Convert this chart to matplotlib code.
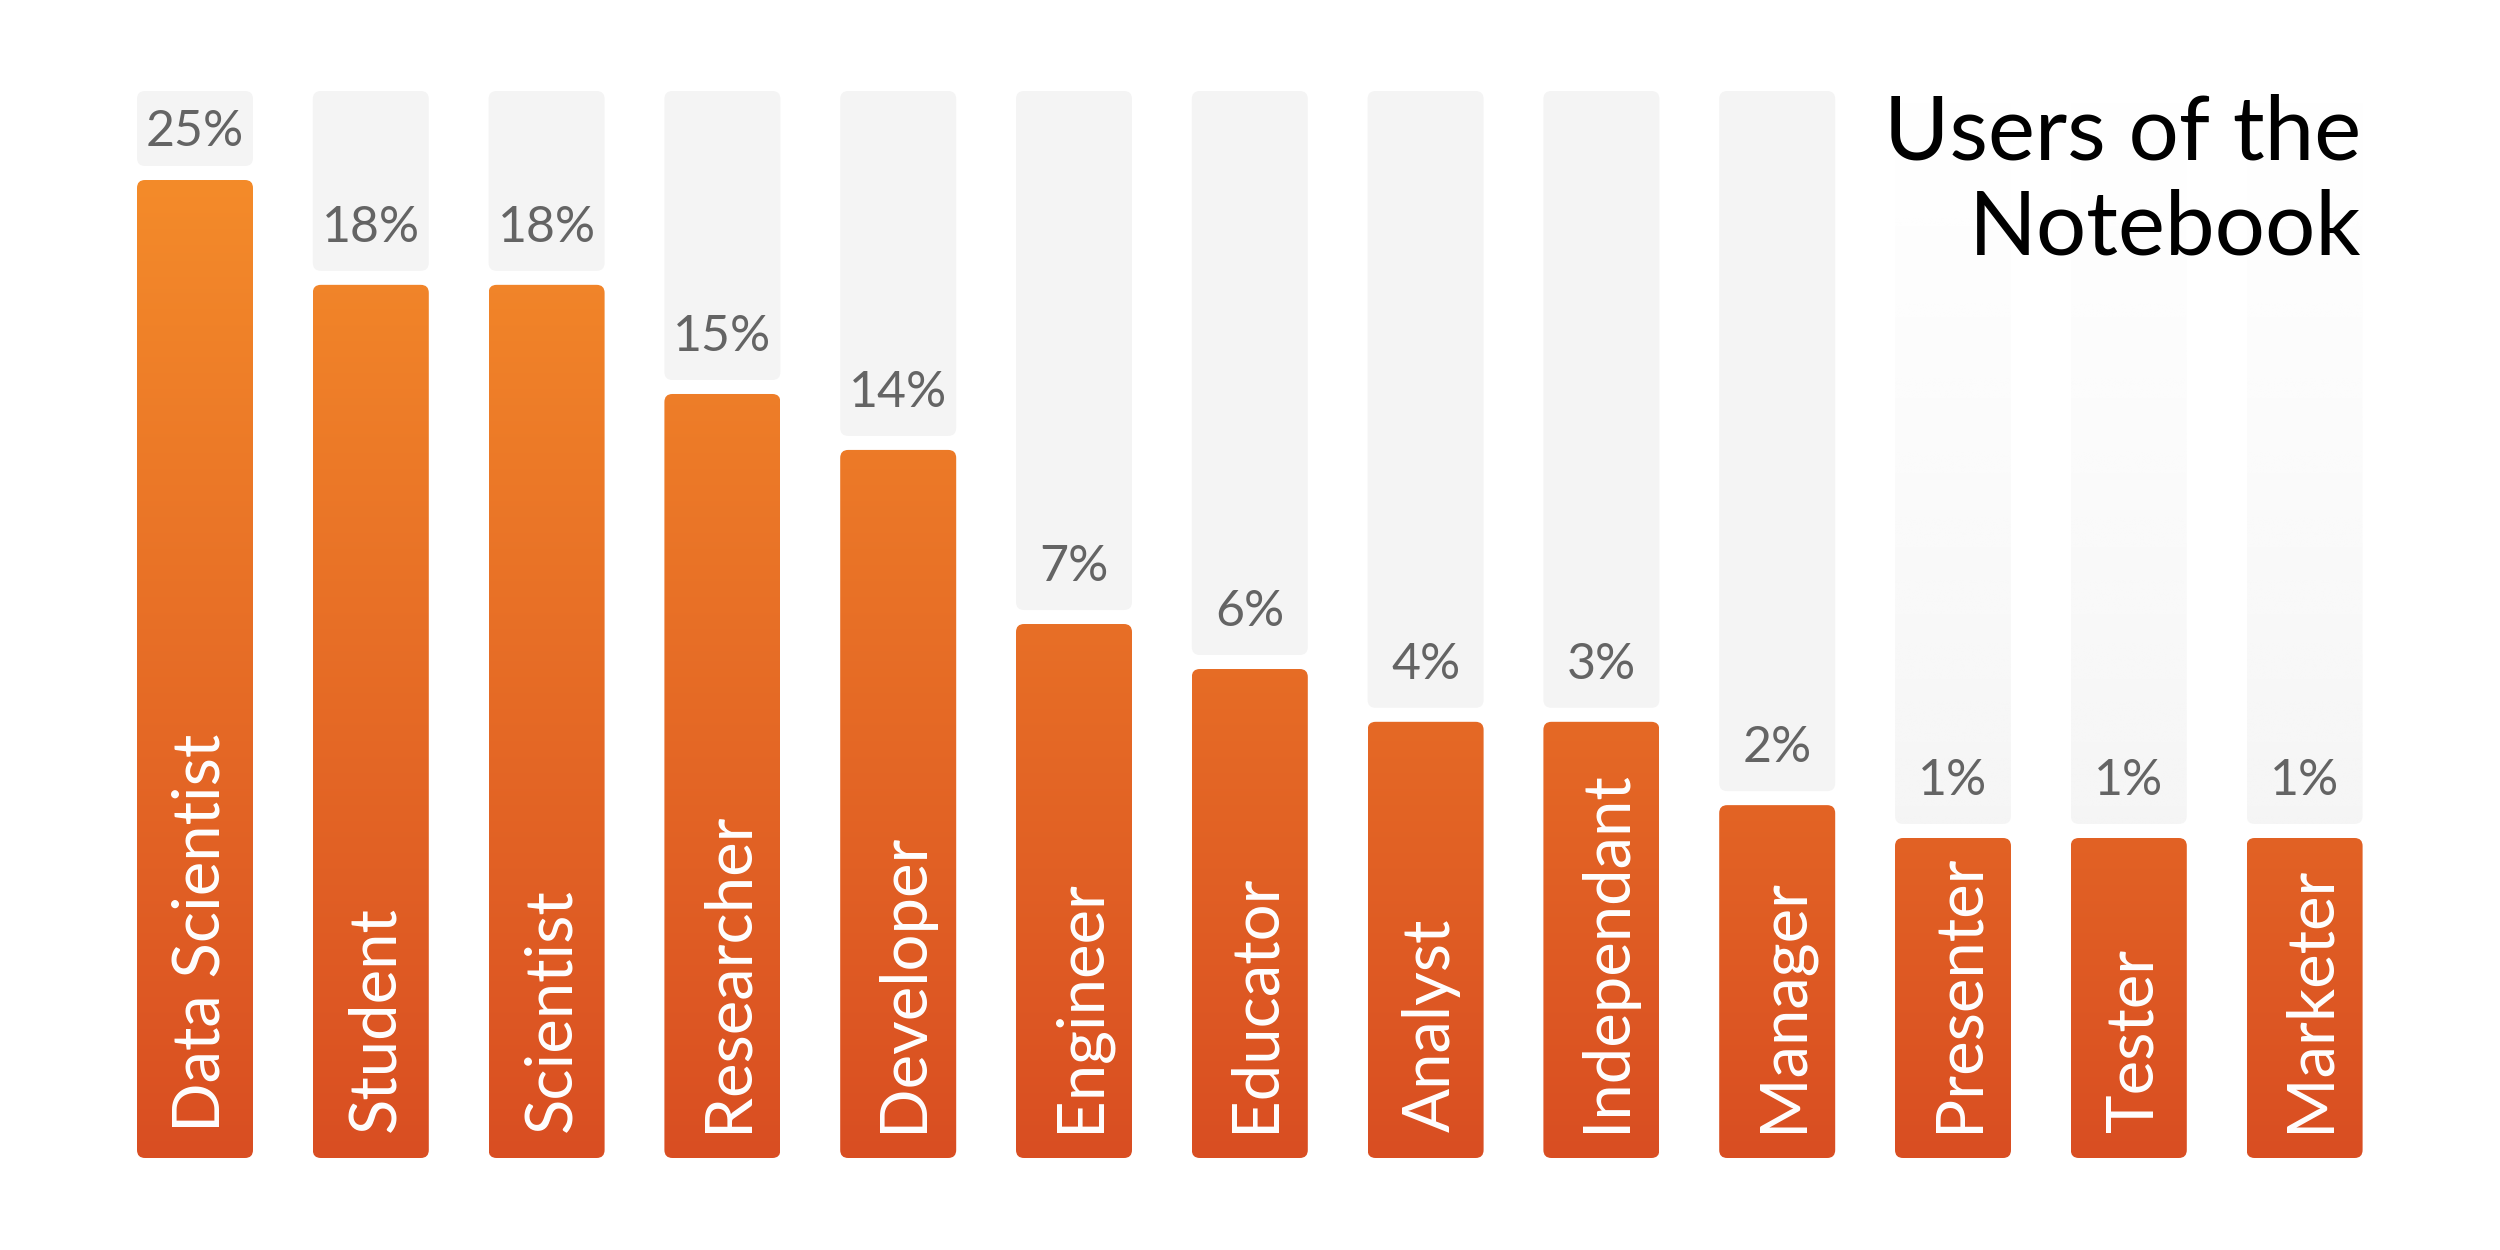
import numpy as np
import matplotlib
matplotlib.use("Agg")
import matplotlib.pyplot as plt
from matplotlib.patches import FancyBboxPatch
from matplotlib.colors import to_rgb

# ---------------- data ----------------
categories = ["Data Scientist", "Student", "Scientist", "Researcher", "Developer",
              "Engineer", "Educator", "Analyst", "Independant", "Manager",
              "Presenter", "Tester", "Marketer"]
percent = [25, 18, 18, 15, 14, 7, 6, 4, 3, 2, 1, 1, 1]
# drawn bar lengths (the infographic is not linear; scaled so Data Scientist = 25)
bar_lengths = [25.0, 22.32, 22.32, 19.53, 18.10, 13.65, 12.50, 11.15, 11.15,
               9.02, 8.18, 8.18, 8.18]
title_lines = ["Users of the", "Notebook"]

# ---------------- style ----------------
FONT = ["Lato", "DejaVu Sans"]
PX_X = 175.8          # pixels per x unit (bar pitch)
PX_Y = 39.12          # pixels per y unit
BAR_W = 116 / PX_X
RAD = 8 / PX_X
ASPECT = PX_X / PX_Y
GAP = 14 / PX_Y
GREY_TOP = (1158 - 91) / PX_Y
GRAD_TOP = 25.0
C_BOTTOM = np.array(to_rgb("#D94E22"))
C_TOP = np.array(to_rgb("#F48B2A"))
GREY = "#F4F4F4"
faded = [False] * 10 + [True] * 3

fig = plt.figure(figsize=(25, 12.5), dpi=100)
fig.patch.set_facecolor("white")
ax = fig.add_axes([0, 0, 1, 1])
ax.set_axis_off()

t = np.linspace(0, 1, 512)[:, None, None]
grad_img = C_BOTTOM + (C_TOP - C_BOTTOM) * t
grad_img = np.repeat(grad_img, 2, axis=1)

fade_img = np.zeros((512, 2, 4))
fade_img[..., :3] = to_rgb(GREY)
fade_img[..., 3] = (0.85 * (1 - np.linspace(0, 1, 512)) ** 1.3)[:, None]

def rounded(x0, y0, w, h, **kw):
    return FancyBboxPatch((x0, y0), w, h,
                          boxstyle=f"round,pad=0,rounding_size={RAD}",
                          mutation_aspect=ASPECT, transform=ax.transData, **kw)

for i, (cat, pct, L) in enumerate(zip(categories, percent, bar_lengths)):
    x0 = i - BAR_W / 2
    # grey background column
    gb = L + GAP
    if faded[i]:
        clip = rounded(x0, gb, BAR_W, GREY_TOP - gb, facecolor="none", edgecolor="none")
        ax.add_patch(clip)
        im = ax.imshow(fade_img, extent=[x0, x0 + BAR_W, gb, GREY_TOP], origin="lower",
                       aspect="auto", interpolation="bilinear", zorder=1)
        im.set_clip_path(clip)
    else:
        ax.add_patch(rounded(x0, gb, BAR_W, GREY_TOP - gb, facecolor=GREY,
                             edgecolor="none", zorder=1))
    # orange gradient bar
    bar = rounded(x0, 0, BAR_W, L, facecolor="none", edgecolor="none")
    ax.add_patch(bar)
    im = ax.imshow(grad_img, extent=[x0, x0 + BAR_W, 0, GRAD_TOP], origin="lower",
                   aspect="auto", interpolation="bilinear", zorder=2)
    im.set_clip_path(bar)
    # category label inside bar
    ax.text(i + 24 / PX_X, 26 / PX_Y, cat, rotation=90, rotation_mode="anchor",
            ha="left", va="baseline", color="white", fontsize=47, family=FONT, zorder=3)
    # percent label
    grey_mid = (gb + GREY_TOP) / 2
    yb = min(L + 43 / PX_Y, grey_mid - 18 / PX_Y)
    ax.text(i, yb, f"{pct}%", ha="center", va="baseline", color="#646464",
            fontsize=36, family=FONT, zorder=3)

fig.text(2361 / 2500, 1 - 160 / 1250, title_lines[0], ha="right", va="baseline",
         fontsize=64, family=FONT, color="black")
fig.text(2361 / 2500, 1 - 254 / 1250, title_lines[1], ha="right", va="baseline",
         fontsize=64, family=FONT, color="black")

ax.set_xlim(-195 / PX_X, (2500 - 195) / PX_X)
ax.set_ylim(-92 / PX_Y, 1158 / PX_Y)

fig.savefig("out.png", dpi=100, facecolor="white")
